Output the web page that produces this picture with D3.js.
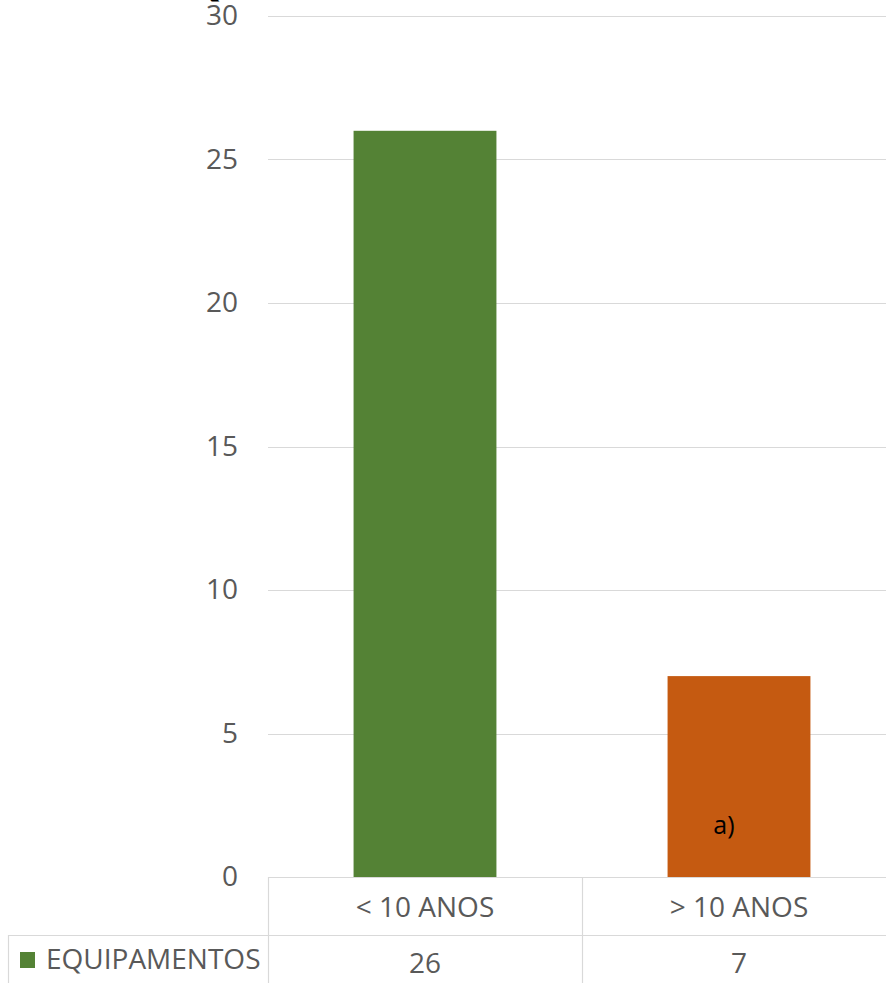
<!DOCTYPE html>
<html>
<head>
<meta charset="utf-8">
<script src="https://cdn.jsdelivr.net/npm/d3@7"></script>
<style>
  body { margin: 0; background: #fff; }
  svg { display: block; }
  text { font-family: "Open Sans", sans-serif; }
</style>
</head>
<body>
<div id="chart"></div>
<script>
// dados do gráfico
let categorias = ["< 10 ANOS", "> 10 ANOS"];
let equipamentos = [26, 7];
let serie = "EQUIPAMENTOS";
let ticks_y = [0, 5, 10, 15, 20, 25, 30];
let rotulos = ["", "a)"];
let cores = ["#548235", "#c55a11"];

let width = 886;
let height = 983;

let svg = d3.select("#chart")
  .append("svg")
    .attr("width", width)
    .attr("height", height);

let echelle_y = d3.scaleLinear()
  .domain([0, 30])
  .range([877, 16]);

// a segunda categoria continua fora da janela
let echelle_x = d3.scaleBand()
  .domain(categorias)
  .range([268, 896])
  .paddingInner(0)
  .paddingOuter(0);

let largura_barra = echelle_x.bandwidth() * 0.455;
let cinza = "#595959";
let linha = "#d9d9d9";

// título cortado no topo (só aparece a cauda das letras)
svg.append("text")
  .attr("x", 190)
  .attr("y", -5)
  .attr("font-size", 40)
  .attr("font-weight", "bold")
  .attr("fill", "#000")
  .text("Quantidade x Idade");

// grade
svg.append("g")
  .selectAll("line")
  .data(ticks_y)
  .enter()
  .append("line")
    .attr("x1", 268)
    .attr("x2", width)
    .attr("y1", d => Math.round(echelle_y(d)) + 0.5)
    .attr("y2", d => Math.round(echelle_y(d)) + 0.5)
    .attr("stroke", linha)
    .attr("stroke-width", 1.2);

// eixo y
let axeY = d3.axisLeft(echelle_y)
  .tickValues(ticks_y)
  .tickSize(0)
  .tickPadding(0);

let gY = svg.append("g")
  .attr("transform", "translate(238,0)")
  .call(axeY);
gY.select(".domain").remove();
gY.selectAll("text")
  .attr("font-size", 28)
  .attr("fill", cinza)
  .attr("font-family", "Open Sans, sans-serif");

// barras
svg.selectAll("rect.barra")
  .data(equipamentos)
  .enter()
  .append("rect")
    .attr("class", "barra")
    .attr("x", (d, i) => echelle_x(categorias[i]) + (echelle_x.bandwidth() - largura_barra) / 2)
    .attr("y", d => echelle_y(d))
    .attr("width", largura_barra)
    .attr("height", d => echelle_y(0) - echelle_y(d))
    .attr("fill", (d, i) => cores[i]);

// rótulo dentro da barra
svg.selectAll("text.rotulo")
  .data(rotulos)
  .enter()
  .append("text")
    .attr("class", "rotulo")
    .attr("x", (d, i) => echelle_x(categorias[i]) + echelle_x.bandwidth() / 2 - 15)
    .attr("y", echelle_y(1.5))
    .attr("text-anchor", "middle")
    .attr("font-size", 25)
    .attr("fill", "#000")
    .text(d => d);

// tabela de dados
let y_cab = 877, y_lin = 935;
let g_tab = svg.append("g")
  .attr("stroke", linha)
  .attr("stroke-width", 1.2);

g_tab.append("line")
  .attr("x1", 268).attr("x2", width)
  .attr("y1", y_cab + 0.5).attr("y2", y_cab + 0.5);
g_tab.append("line")
  .attr("x1", 8).attr("x2", width)
  .attr("y1", y_lin + 0.5).attr("y2", y_lin + 0.5);
g_tab.append("line")
  .attr("x1", 8.5).attr("x2", 8.5)
  .attr("y1", y_lin).attr("y2", height);
g_tab.selectAll("line.col")
  .data(categorias)
  .enter()
  .append("line")
    .attr("class", "col")
    .attr("x1", d => echelle_x(d) + 0.5)
    .attr("x2", d => echelle_x(d) + 0.5)
    .attr("y1", y_cab)
    .attr("y2", height);

svg.selectAll("text.cab")
  .data(categorias)
  .enter()
  .append("text")
    .attr("class", "cab")
    .attr("x", d => echelle_x(d) + echelle_x.bandwidth() / 2)
    .attr("y", 917)
    .attr("text-anchor", "middle")
    .attr("font-size", 28)
    .attr("fill", cinza)
    .text(d => d);

svg.selectAll("text.valor")
  .data(equipamentos)
  .enter()
  .append("text")
    .attr("class", "valor")
    .attr("x", (d, i) => echelle_x(categorias[i]) + echelle_x.bandwidth() / 2)
    .attr("y", 973)
    .attr("text-anchor", "middle")
    .attr("font-size", 28)
    .attr("fill", cinza)
    .text(d => d);

// legenda da série
svg.append("rect")
  .attr("x", 20)
  .attr("y", 952)
  .attr("width", 15)
  .attr("height", 16)
  .attr("fill", cores[0]);

svg.append("text")
  .attr("x", 46)
  .attr("y", 969)
  .attr("font-size", 28)
  .attr("fill", cinza)
  .text(serie);
</script>
</body>
</html>
